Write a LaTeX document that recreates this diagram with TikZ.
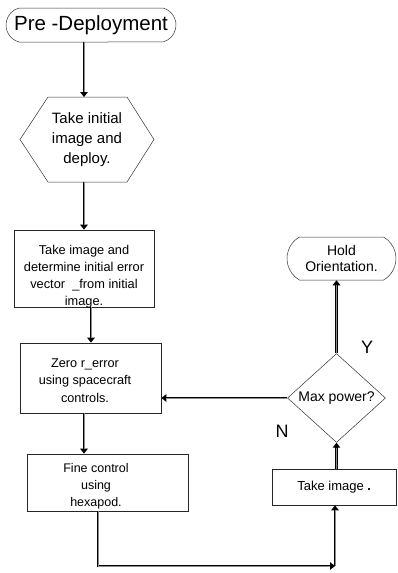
\documentclass[tikz,border=0pt]{standalone}
\usepackage{fontspec}
\setmainfont{Liberation Sans}
\usetikzlibrary{shapes.misc,shapes.geometric,arrows.meta}

\tikzset{
  outline/.style={draw=black!80, line width=0.5pt},
  terminal/.style={outline, rounded rectangle, inner sep=0pt},
  procbox/.style={draw=black!85, line width=0.7pt, rectangle, inner sep=0pt},
  txt/.style={align=center, inner sep=0pt},
  flow/.style={draw=black, line width=2.8pt,
    -{Triangle[length=5pt,width=7.5pt]},
    postaction={draw=black!45, line width=0.8pt, -, shorten >=5pt}},
}

\begin{document}
\begin{tikzpicture}[x=1pt,y=-1pt]
  \useasboundingbox[fill=white] (0,0) rectangle (397,573);

  % start terminal
  \node[terminal, rounded rectangle arc length=150, minimum width=170pt,
        minimum height=34pt, font=\fontsize{20.5}{22}\selectfont]
        (pre) at (91,25) {Pre -Deployment};

  % hexagon (preparation step)
  \node[txt, minimum width=134pt, minimum height=85pt,
        font=\fontsize{15}{20}\selectfont] (hex) at (87,139.5)
        {Take initial\\image and\\deploy.};
  \draw[outline] (48,97) -- (127,97) -- (154,139.5) -- (127,182)
                 -- (48,182) -- (20,139.5) -- cycle;

  % process boxes
  \node[procbox, minimum width=140pt, minimum height=77pt] (b1) at (84,268.5) {};
  \node[txt, font=\fontsize{12.8}{17}\selectfont] (b1t) at (84,277)
        {Take image and\\determine initial error\\vector \ \_from initial\\image.};

  \node[procbox, minimum width=141pt, minimum height=70pt] (b2) at (90.5,378) {};
  \node[txt, font=\fontsize{12.7}{17.5}\selectfont] (b2t) at (85,380.5)
        {Zero r\_error\\using spacecraft\\controls.};

  \node[procbox, minimum width=161pt, minimum height=57pt] (b3) at (107.5,482.5) {};
  \node[txt, font=\fontsize{12.5}{17}\selectfont] (b3t) at (96,486)
        {Fine control\\using\\hexapod.};

  \node[procbox, minimum width=124.5pt, minimum height=36pt,
        font=\fontsize{13}{15}\selectfont] (b4) at (334.25,487) {Take image \textbf{.}};

  % decision
  \node[outline, diamond, minimum width=98pt, minimum height=68pt, inner sep=0pt,
        font=\fontsize{14}{16}\selectfont] (dec) at (336.5,398) {Max power?};

  % end terminal
  \node[terminal, rounded rectangle arc length=120, minimum width=109pt,
        minimum height=43pt, align=center, font=\fontsize{14}{16.5}\selectfont]
        (hold) at (341.5,258.5) {Hold\\Orientation.};

  % branch labels
  \node[font=\fontsize{18}{18}\selectfont] (ylab) at (367,347) {Y};
  \node[font=\fontsize{18}{18}\selectfont] (nlab) at (282,431) {N};

  % connectors
  \draw[flow] (pre.south -| 84,0) -- (84,97);
  \draw[flow] (84,182) -- (b1.north);
  \draw[flow] (b1.south -| 91,0) -- (b2.north -| 91,0);
  \draw[flow] (b2.south -| 84,0) -- (b3.north -| 84,0);
  \coordinate (corner) at (335,566);
  \draw[flow] (b3.south -| 98,0) |- (corner);
  \draw[flow] (corner) -- (b4.south -| corner);
  \draw[flow] (b4.north -| dec.south) -- (dec.south);
  \draw[flow] (dec.north) -- (hold.south -| dec.north);
  \draw[flow] (dec.west) -- (b2.east |- dec.west);
\end{tikzpicture}
\end{document}
